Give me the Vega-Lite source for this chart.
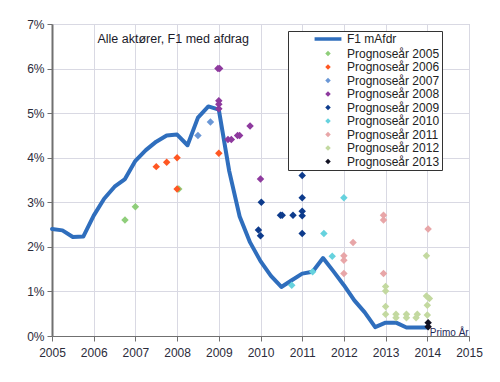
{
  "$schema": "https://vega.github.io/schema/vega-lite/v6.json",
  "width": 417,
  "height": 312,
  "autosize": "none",
  "padding": {"left": 52, "top": 24, "right": 31, "bottom": 46},
  "background": "white",
  "config": {
    "font": "Liberation Sans",
    "view": {"stroke": "#bdbdc8", "strokeWidth": 1},
    "axis": {"grid": true, "gridColor": "#d9d9e3", "gridWidth": 1, "labelFont": "Liberation Sans", "labelFontSize": 12, "labelColor": "#2b2b3a", "domainColor": "#707070", "tickColor": "#707070", "tickSize": 5, "title": null}
  },
  "datasets": {
    "line": [
      {"series": "F1 mAfdr", "x": 2005.0, "y": 2.40},
      {"series": "F1 mAfdr", "x": 2005.25, "y": 2.37},
      {"series": "F1 mAfdr", "x": 2005.5, "y": 2.22},
      {"series": "F1 mAfdr", "x": 2005.75, "y": 2.23},
      {"series": "F1 mAfdr", "x": 2006.0, "y": 2.70},
      {"series": "F1 mAfdr", "x": 2006.25, "y": 3.08},
      {"series": "F1 mAfdr", "x": 2006.5, "y": 3.35},
      {"series": "F1 mAfdr", "x": 2006.75, "y": 3.52},
      {"series": "F1 mAfdr", "x": 2007.0, "y": 3.93},
      {"series": "F1 mAfdr", "x": 2007.25, "y": 4.17},
      {"series": "F1 mAfdr", "x": 2007.5, "y": 4.36},
      {"series": "F1 mAfdr", "x": 2007.75, "y": 4.50},
      {"series": "F1 mAfdr", "x": 2008.0, "y": 4.52},
      {"series": "F1 mAfdr", "x": 2008.25, "y": 4.28},
      {"series": "F1 mAfdr", "x": 2008.5, "y": 4.90},
      {"series": "F1 mAfdr", "x": 2008.75, "y": 5.15},
      {"series": "F1 mAfdr", "x": 2009.0, "y": 5.08},
      {"series": "F1 mAfdr", "x": 2009.25, "y": 3.70},
      {"series": "F1 mAfdr", "x": 2009.5, "y": 2.68},
      {"series": "F1 mAfdr", "x": 2009.75, "y": 2.10},
      {"series": "F1 mAfdr", "x": 2010.0, "y": 1.68},
      {"series": "F1 mAfdr", "x": 2010.25, "y": 1.35},
      {"series": "F1 mAfdr", "x": 2010.5, "y": 1.10},
      {"series": "F1 mAfdr", "x": 2010.75, "y": 1.25},
      {"series": "F1 mAfdr", "x": 2011.0, "y": 1.40},
      {"series": "F1 mAfdr", "x": 2011.25, "y": 1.44},
      {"series": "F1 mAfdr", "x": 2011.5, "y": 1.75},
      {"series": "F1 mAfdr", "x": 2011.75, "y": 1.45},
      {"series": "F1 mAfdr", "x": 2012.0, "y": 1.14},
      {"series": "F1 mAfdr", "x": 2012.25, "y": 0.80},
      {"series": "F1 mAfdr", "x": 2012.5, "y": 0.53},
      {"series": "F1 mAfdr", "x": 2012.75, "y": 0.20},
      {"series": "F1 mAfdr", "x": 2013.0, "y": 0.30},
      {"series": "F1 mAfdr", "x": 2013.25, "y": 0.30},
      {"series": "F1 mAfdr", "x": 2013.5, "y": 0.19},
      {"series": "F1 mAfdr", "x": 2013.75, "y": 0.19},
      {"series": "F1 mAfdr", "x": 2014.0, "y": 0.19}
    ],
    "points": [
      {"series": "Prognoseår 2005", "x": 2006.75, "y": 2.6},
      {"series": "Prognoseår 2005", "x": 2007.0, "y": 2.9},
      {"series": "Prognoseår 2005", "x": 2008.04, "y": 3.3},
      {"series": "Prognoseår 2006", "x": 2007.5, "y": 3.8},
      {"series": "Prognoseår 2006", "x": 2007.75, "y": 3.9},
      {"series": "Prognoseår 2006", "x": 2008.0, "y": 4.0},
      {"series": "Prognoseår 2006", "x": 2008.0, "y": 3.3},
      {"series": "Prognoseår 2006", "x": 2009.0, "y": 4.1},
      {"series": "Prognoseår 2007", "x": 2008.5, "y": 4.5},
      {"series": "Prognoseår 2007", "x": 2008.8, "y": 4.8},
      {"series": "Prognoseår 2008", "x": 2008.98, "y": 6.0},
      {"series": "Prognoseår 2008", "x": 2009.02, "y": 6.0},
      {"series": "Prognoseår 2008", "x": 2009.0, "y": 5.28},
      {"series": "Prognoseår 2008", "x": 2009.0, "y": 5.2},
      {"series": "Prognoseår 2008", "x": 2009.0, "y": 5.1},
      {"series": "Prognoseår 2008", "x": 2009.22, "y": 4.41},
      {"series": "Prognoseår 2008", "x": 2009.3, "y": 4.41},
      {"series": "Prognoseår 2008", "x": 2009.45, "y": 4.5},
      {"series": "Prognoseår 2008", "x": 2009.5, "y": 4.5},
      {"series": "Prognoseår 2008", "x": 2009.75, "y": 4.71},
      {"series": "Prognoseår 2008", "x": 2010.0, "y": 3.52},
      {"series": "Prognoseår 2009", "x": 2011.0, "y": 3.6},
      {"series": "Prognoseår 2009", "x": 2010.02, "y": 3.0},
      {"series": "Prognoseår 2009", "x": 2011.0, "y": 3.1},
      {"series": "Prognoseår 2009", "x": 2010.48, "y": 2.71},
      {"series": "Prognoseår 2009", "x": 2010.52, "y": 2.71},
      {"series": "Prognoseår 2009", "x": 2010.78, "y": 2.71},
      {"series": "Prognoseår 2009", "x": 2011.0, "y": 2.8},
      {"series": "Prognoseår 2009", "x": 2011.0, "y": 2.7},
      {"series": "Prognoseår 2009", "x": 2009.95, "y": 2.38},
      {"series": "Prognoseår 2009", "x": 2010.0, "y": 2.25},
      {"series": "Prognoseår 2009", "x": 2011.0, "y": 2.3},
      {"series": "Prognoseår 2010", "x": 2010.75, "y": 1.14},
      {"series": "Prognoseår 2010", "x": 2011.25, "y": 1.44},
      {"series": "Prognoseår 2010", "x": 2011.52, "y": 2.3},
      {"series": "Prognoseår 2010", "x": 2011.72, "y": 1.79},
      {"series": "Prognoseår 2010", "x": 2012.0, "y": 3.1},
      {"series": "Prognoseår 2011", "x": 2012.0, "y": 1.8},
      {"series": "Prognoseår 2011", "x": 2012.0, "y": 1.7},
      {"series": "Prognoseår 2011", "x": 2012.0, "y": 1.4},
      {"series": "Prognoseår 2011", "x": 2012.22, "y": 2.1},
      {"series": "Prognoseår 2011", "x": 2012.95, "y": 2.71},
      {"series": "Prognoseår 2011", "x": 2012.95, "y": 2.6},
      {"series": "Prognoseår 2011", "x": 2012.95, "y": 1.4},
      {"series": "Prognoseår 2011", "x": 2014.02, "y": 2.4},
      {"series": "Prognoseår 2012", "x": 2013.0, "y": 1.11},
      {"series": "Prognoseår 2012", "x": 2013.0, "y": 1.01},
      {"series": "Prognoseår 2012", "x": 2013.0, "y": 0.66},
      {"series": "Prognoseår 2012", "x": 2013.0, "y": 0.49},
      {"series": "Prognoseår 2012", "x": 2013.25, "y": 0.49},
      {"series": "Prognoseår 2012", "x": 2013.25, "y": 0.41},
      {"series": "Prognoseår 2012", "x": 2013.5, "y": 0.49},
      {"series": "Prognoseår 2012", "x": 2013.5, "y": 0.41},
      {"series": "Prognoseår 2012", "x": 2013.76, "y": 0.49},
      {"series": "Prognoseår 2012", "x": 2013.73, "y": 0.41},
      {"series": "Prognoseår 2012", "x": 2013.98, "y": 1.8},
      {"series": "Prognoseår 2012", "x": 2013.98, "y": 0.9},
      {"series": "Prognoseår 2012", "x": 2014.05, "y": 0.84},
      {"series": "Prognoseår 2012", "x": 2014.0, "y": 0.69},
      {"series": "Prognoseår 2012", "x": 2014.0, "y": 0.47},
      {"series": "Prognoseår 2013", "x": 2014.02, "y": 0.3},
      {"series": "Prognoseår 2013", "x": 2014.02, "y": 0.21}
    ],
    "labels": [
      {"label": "Alle aktører, F1 med afdrag", "x": 2006.09, "y": 6.66, "kind": "title"},
      {"label": "Primo År", "x": 2014.06, "y": 0.07, "kind": "note"}
    ]
  },
  "encoding": {
    "x": {"field": "x", "type": "quantitative", "scale": {"domain": [2005, 2015], "nice": false, "zero": false}, "axis": {"tickCount": 10, "format": "d", "labelPadding": 6, "labelFlush": false}},
    "y": {"field": "y", "type": "quantitative", "scale": {"domain": [0, 7], "nice": false}, "axis": {"tickCount": 7, "labelExpr": "datum.value + '%'", "domainWidth": 2, "labelPadding": 3}}
  },
  "layer": [
    {
      "data": {"name": "line"},
      "mark": {"type": "line", "strokeWidth": 4, "strokeJoin": "round", "strokeCap": "round"},
      "encoding": {
        "color": {
          "field": "series", "type": "nominal",
          "scale": {
            "domain": ["F1 mAfdr", "Prognoseår 2005", "Prognoseår 2006", "Prognoseår 2007", "Prognoseår 2008", "Prognoseår 2009", "Prognoseår 2010", "Prognoseår 2011", "Prognoseår 2012", "Prognoseår 2013"],
            "range": ["#2f6ebd", "#8fce7a", "#ff5722", "#6a97d6", "#8e3a9e", "#0d3b8c", "#66d2de", "#e8a6a8", "#c3d9a0", "#111122"]
          },
          "legend": {
            "title": null, "orient": "none", "legendX": 236, "legendY": 7,
            "strokeColor": "#333333", "fillColor": "white", "padding": 2,
            "labelFontSize": 12, "labelColor": "#222222", "labelFont": "Liberation Sans",
            "rowPadding": 1.5, "symbolSize": 30, "symbolOffset": 32, "labelOffset": 13,
            "labelExpr": "datum.label + '\u00a0\u00a0\u00a0\u00a0\u00a0\u00a0\u00a0\u00a0\u00a0\u00a0\u00a0\u00a0'",
            "encode": {"symbols": {"update": {
              "size": {"value": 30},
              "stroke": {"scale": "color", "field": "value"},
              "fill": {"scale": "color", "field": "value"},
              "strokeWidth": {"signal": "datum.value === 'F1 mAfdr' ? 3.5 : 0"}
            }}}
          }
        },
        "shape": {
          "field": "series", "type": "nominal",
          "scale": {
            "domain": ["F1 mAfdr", "Prognoseår 2005", "Prognoseår 2006", "Prognoseår 2007", "Prognoseår 2008", "Prognoseår 2009", "Prognoseår 2010", "Prognoseår 2011", "Prognoseår 2012", "Prognoseår 2013"],
            "range": ["M-4.9,0H4.9", "diamond", "diamond", "diamond", "diamond", "diamond", "diamond", "diamond", "diamond", "diamond"]
          }
        }
      }
    },
    {
      "data": {"name": "points"},
      "mark": {"type": "point", "filled": true, "opacity": 1, "size": 56},
      "encoding": {
        "color": {"field": "series", "type": "nominal"},
        "shape": {"field": "series", "type": "nominal"}
      }
    },
    {
      "data": {"name": "labels"},
      "transform": [{"filter": "datum.kind === 'title'"}],
      "mark": {"type": "text", "align": "left", "baseline": "middle", "fontSize": 12.5, "font": "Liberation Sans", "color": "#1a1a2a"},
      "encoding": {"text": {"field": "label"}}
    },
    {
      "data": {"name": "labels"},
      "transform": [{"filter": "datum.kind === 'note'"}],
      "mark": {"type": "text", "align": "left", "baseline": "middle", "fontSize": 10, "font": "Liberation Sans", "color": "#1f2a5a", "clip": true},
      "encoding": {"text": {"field": "label"}}
    }
  ]
}
